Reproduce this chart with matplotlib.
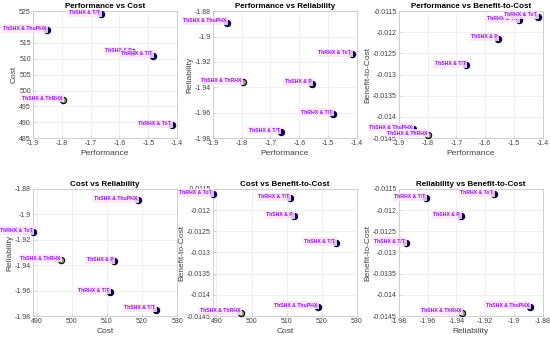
import matplotlib
matplotlib.use("Agg")
import matplotlib.pyplot as plt
import numpy as np

plt.rcParams['font.family'] = ['Liberation Sans', 'DejaVu Sans']

labels = ["ThSHX & ThuPHX", "ThSHX & T/T", "ThSHX & P", "ThRHX & T/T", "ThRHX & ToT", "ThSHX & ThRHX"]
performance = [-1.850, -1.665, -1.555, -1.483, -1.418, -1.797]
cost = [519.0, 524.0, 512.0, 511.0, 489.0, 497.0]
reliability = [-1.889, -1.975, -1.937, -1.961, -1.914, -1.936]
benefit_to_cost = [-0.01428, -0.01278, -0.01215, -0.01172, -0.01163, -0.01442]
highlight = 5  # the selected design

metrics = {"Performance": performance, "Cost": cost,
           "Reliability": reliability, "Benefit-to-Cost": benefit_to_cost}
limits = {"Performance": (-1.9, -1.4, np.arange(-1.9, -1.39, 0.1)),
          "Cost": (489, 530, np.arange(490, 531, 10)),
          "Reliability": (-1.98, -1.88, np.arange(-1.98, -1.879, 0.02)),
          "Benefit-to-Cost": (-0.0145, -0.0115, np.arange(-0.0145, -0.01149, 0.0005))}
cost_y = (485, 525, np.arange(485, 526, 5))

pairs = [("Performance", "Cost"), ("Performance", "Reliability"), ("Performance", "Benefit-to-Cost"),
         ("Cost", "Reliability"), ("Cost", "Benefit-to-Cost"), ("Reliability", "Benefit-to-Cost")]

fig = plt.figure(figsize=(5.5, 3.37), dpi=100)
lefts = [0.060, 0.387, 0.725]
bottoms = [0.590, 0.0623]
w, h = 0.262, 0.377

def fmt(v):
    s = ('%.4f' % v).rstrip('0').rstrip('.')
    if s == '-0':
        s = '0'
    return s

for k, (xn, yn) in enumerate(pairs):
    ax = fig.add_axes([lefts[k % 3], bottoms[k // 3], w, h])
    xs, ys = metrics[xn], metrics[yn]
    xl = limits[xn]
    yl = cost_y if (xn == "Performance" and yn == "Cost") else limits[yn]
    ax.set_xlim(xl[0], xl[1])
    ax.set_ylim(yl[0], yl[1])
    ax.set_xticks(xl[2])
    ax.set_yticks(yl[2])
    ax.set_xticklabels([fmt(t) for t in xl[2]])
    ax.set_yticklabels([fmt(t) for t in yl[2]])
    ax.grid(True, color='#ebebeb', linewidth=0.5)
    ax.set_axisbelow(True)
    for s in ax.spines.values():
        s.set_color('#c8c8c8')
        s.set_linewidth(0.6)
    ax.tick_params(direction='in', length=2, width=0.5, color='#c8c8c8',
                   labelsize=5, labelcolor='#404040', pad=1.5)
    for i in range(len(xs)):
        fc = '#9aa84a' if i == highlight else '#0a0a5a'
        ax.scatter(xs[i], ys[i], s=20, facecolor=fc, edgecolor='#0a0a40',
                   linewidth=0.9, zorder=3, clip_on=False)
        ax.annotate(labels[i], (xs[i], ys[i]), xytext=(-0.5, 1.2), textcoords='offset points',
                    ha='right', va='center', fontsize=3.7, color='#8a1adf', fontweight='bold',
                    bbox=dict(boxstyle='square,pad=0.3', facecolor='#ffe2fb', edgecolor='none', alpha=0.85),
                    zorder=4, annotation_clip=False)
    ax.set_xlabel(xn, fontsize=6, color='#404040', labelpad=2)
    ax.set_ylabel(yn, fontsize=6, color='#404040', labelpad=1)
    ax.set_title(f"{xn} vs {yn}", fontsize=5.8, fontweight='bold', pad=2)

fig.savefig("out.png", dpi=100)
